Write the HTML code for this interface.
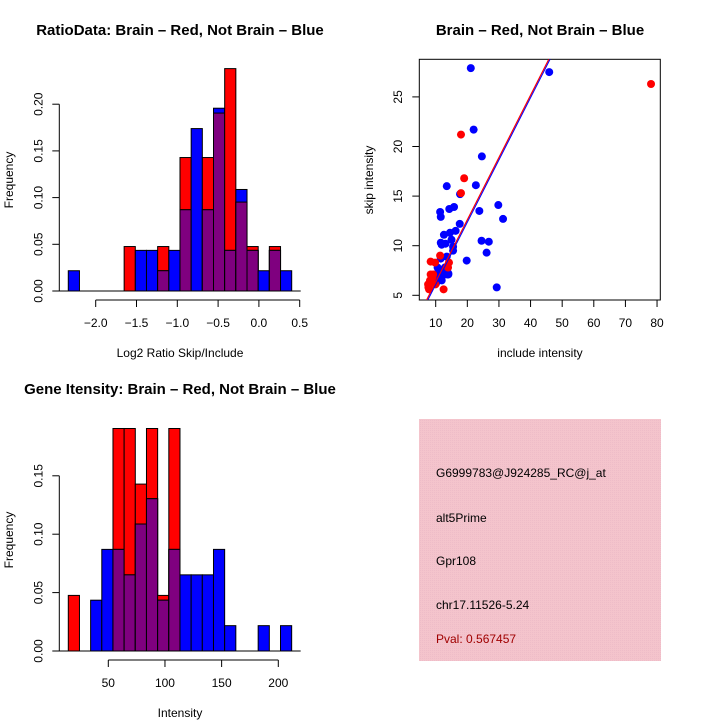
<!DOCTYPE html>
<html><head><meta charset="utf-8">
<style>
html,body{margin:0;padding:0;background:#fff;}
svg{display:block;font-family:"Liberation Sans",sans-serif;}
</style></head>
<body>
<svg id="chart" width="720" height="720" viewBox="0 0 720 720" xmlns="http://www.w3.org/2000/svg">
<defs>
<pattern id="pinkpat" width="2" height="2" patternUnits="userSpaceOnUse">
<rect width="2" height="2" fill="#f4c4cc"/>
<rect width="1" height="1" fill="#eebcc8"/>
</pattern>
</defs>
<rect x="0" y="0" width="720" height="720" fill="#fff"/>
<g id="p1"></g>
<g id="p2"></g>
<g id="p3"></g>
<g id="p4">
<rect x="419" y="419" width="242" height="242" fill="url(#pinkpat)"/>
<text x="436" y="477" font-size="12">G6999783@J924285_RC@j_at</text>
<text x="436" y="522" font-size="12">alt5Prime</text>
<text x="436" y="565" font-size="12">Gpr108</text>
<text x="436" y="609" font-size="12">chr17.11526-5.24</text>
<text x="436" y="643" font-size="12" fill="#a00000">Pval: 0.567457</text>
</g>
</svg>
<script>
// ---- Ratio histogram data ----
const ratioBinStart = -2.336;
const ratioBinWidth = 0.1369;
const ratioRed  = [0,0,0,0,0,0.0476,0,0,0.0476,0,0.1429,0,0.1429,0.1905,0.2381,0.0952,0.0476,0,0.0476,0];
const ratioBlue = [0.0217,0,0,0,0,0,0.0435,0.0435,0.0217,0.0435,0.087,0.1739,0.087,0.1957,0.0435,0.1087,0.0435,0.0217,0.0435,0.0217];
const ratioXTicks = [-2.0,-1.5,-1.0,-0.5,0.0,0.5];
const ratioXTickLabels = ["\u22122.0","\u22121.5","\u22121.0","\u22120.5","0.0","0.5"];
const ratioYTicks = [0,0.05,0.10,0.15,0.20];
const ratioYTickLabels = ["0.00","0.05","0.10","0.15","0.20"];

// ---- Gene intensity histogram data ----
const intBinStart = 14.7;
const intBinWidth = 9.855;
const intRed  = [0.0476,0,0,0,0.1905,0.1905,0.1429,0.1905,0.0476,0.1905,0,0,0,0,0,0,0,0,0,0];
const intBlue = [0,0,0.0435,0.087,0.087,0.0652,0.1087,0.1304,0.0435,0.087,0.0652,0.0652,0.0652,0.087,0.0217,0,0,0.0217,0,0.0217];
const intXTicks = [50,100,150,200];
const intXTickLabels = ["50","100","150","200"];
const intYTicks = [0,0.05,0.10,0.15];
const intYTickLabels = ["0.00","0.05","0.10","0.15"];

// ---- Scatter data ----
const blueX = [21.1,45.9,22,24.6,22.7,13.5,17.7,29.8,15.8,14.3,23.8,11.4,11.6,31.3,17.6,16.3,14.5,12.6,11.6,15,24.5,26.8,15.5,13.1,11.9,15.5,26.1,13.5,11.6,19.8,10.6,12.4,12.9,14,11.4,9.8,13.7,10.8,11.9,12.9,14,10.1,29.3,10.5];
const blueY = [27.9,27.5,21.7,19.0,16.1,16.0,15.2,14.1,13.9,13.7,13.5,13.4,12.9,12.7,12.2,11.5,11.3,11.1,10.3,10.6,10.5,10.4,9.9,10.2,10.1,9.5,9.3,8.9,8.7,8.5,7.8,7.5,7.8,7.2,7.1,7.1,7.1,6.7,6.5,7.1,7.1,6.2,5.8,6.5];
const redX = [78.1,18,19,18,11.4,8.4,14.2,9.8,13.9,9.2,8.4,9,8.2,7.6,8.7,7.7,9.9,12.5,7.9];
const redY = [26.3,21.2,16.8,15.3,9.0,8.4,8.3,8.3,7.8,7.1,7.1,6.8,6.5,6.1,6.3,5.8,6.1,5.6,5.6];
const redFit = [0.05,0.628];
const blueFit = [0.0,0.628];
const scXTicks = [10,20,30,40,50,60,70,80];
const scYTicks = [5,10,15,20,25];

const NS = "http://www.w3.org/2000/svg";
function mk(parent, tag, attrs, text){
  const e = document.createElementNS(NS, tag);
  for (const k in attrs) e.setAttribute(k, attrs[k]);
  if (text !== undefined) e.textContent = text;
  parent.appendChild(e);
  return e;
}
function title(g, x, y, s){
  const t = mk(g,'text',{x:x,y:y,'font-size':15,'font-weight':'bold','text-anchor':'middle'}, s);
  
  
}
function vlabel(g, x, y, s, size, name){
  const t = mk(g,'text',{x:x,y:y,'font-size':size,'text-anchor':'middle',transform:'rotate(-90 '+x+' '+y+')'}, s);
  
  
}
function hlabel(g, x, y, s, size, name){
  const t = mk(g,'text',{x:x,y:y,'font-size':size,'text-anchor':'middle'}, s);
  
  
}

function histogram(g, cfg){
  const xs = v => cfg.x0px + (v - cfg.x0) * cfg.xScale;
  const ys = v => cfg.y0px - v * cfg.yScale;
  const n = cfg.red.length;
  for (let i=0;i<n;i++){
    const a = cfg.binStart + i*cfg.binWidth, b = a + cfg.binWidth;
    const xa = xs(a), xb = xs(b);
    const r = cfg.red[i], bl = cfg.blue[i];
    if (r>0){
      const el = mk(g,'rect',{x:xa,y:ys(r),width:xb-xa,height:ys(0)-ys(r),fill:'#ff0000',stroke:'#000','stroke-width':1});
      
      
    }
    if (bl>0){
      const el = mk(g,'rect',{x:xa,y:ys(bl),width:xb-xa,height:ys(0)-ys(bl),fill:'#0000ff',stroke:'#000','stroke-width':1});
      
      
    }
    const m = Math.min(r,bl);
    if (m>0){
      const el = mk(g,'rect',{x:xa,y:ys(m),width:xb-xa,height:ys(0)-ys(m),fill:'#7f007f',stroke:'#000','stroke-width':1});
      
      
    }
  }
  mk(g,'line',{x1:xs(cfg.binStart)-11,x2:xs(cfg.binStart+n*cfg.binWidth)+9,y1:ys(0),y2:ys(0),stroke:'#000'});
  const yt = cfg.yTicks;
  const ax = cfg.yAxisX;
  const ya = mk(g,'line',{x1:ax,x2:ax,y1:ys(yt[0]),y2:ys(yt[yt.length-1]),stroke:'#000'});
  
  
  yt.forEach((v,i)=>{
    mk(g,'line',{x1:ax-7,x2:ax,y1:ys(v),y2:ys(v),stroke:'#000'});
    const lx = ax-17, ly = ys(v);
    const t = mk(g,'text',{x:lx,y:ly,'font-size':12,'text-anchor':'middle',transform:'rotate(-90 '+lx+' '+ly+')'}, cfg.yLabels[i]);
    
    
  });
  const xt = cfg.xTicks;
  const xa = mk(g,'line',{x1:xs(xt[0]),x2:xs(xt[xt.length-1]),y1:cfg.xAxisY,y2:cfg.xAxisY,stroke:'#000'});
  
  
  xt.forEach((v,i)=>{
    mk(g,'line',{x1:xs(v),x2:xs(v),y1:cfg.xAxisY,y2:cfg.xAxisY+7,stroke:'#000'});
    const t = mk(g,'text',{x:xs(v),y:cfg.xAxisY+27,'font-size':12,'text-anchor':'middle'}, cfg.xLabels[i]);
    
    
  });
}

const g1 = document.getElementById('p1');
histogram(g1,{x0:-2.0,x0px:95.7,xScale:81.6,y0px:291,yScale:934,binStart:ratioBinStart,binWidth:ratioBinWidth,
  red:ratioRed,blue:ratioBlue,yTicks:ratioYTicks,yLabels:ratioYTickLabels,xTicks:ratioXTicks,xLabels:ratioXTickLabels,yAxisX:59.3,xAxisY:300});
title(g1,180,35,'RatioData: Brain \u2013 Red, Not Brain \u2013 Blue');
hlabel(g1,180,357,'Log2 Ratio Skip/Include',12,'x-axis-title');
vlabel(g1,13,180,'Frequency',12,'y-axis-title');

const g3 = document.getElementById('p3');
histogram(g3,{x0:50,x0px:108.3,xScale:1.1333,y0px:651,yScale:1168,binStart:intBinStart,binWidth:intBinWidth,
  red:intRed,blue:intBlue,yTicks:intYTicks,yLabels:intYTickLabels,xTicks:intXTicks,xLabels:intXTickLabels,yAxisX:59.3,xAxisY:660});
title(g3,180,394,'Gene Itensity: Brain \u2013 Red, Not Brain \u2013 Blue');
hlabel(g3,180,717,'Intensity',12,'x-axis-title');
vlabel(g3,13,540,'Frequency',12,'y-axis-title');

const g2 = document.getElementById('p2');
const sx = v => 435.7 + (v-10)*3.162;
const sy = v => 295.3 - (v-5)*9.92;
const box = mk(g2,'rect',{x:419.3,y:59.3,width:241,height:240.7,fill:'none',stroke:'#000'});


const cp = mk(document.querySelector('defs'),'clipPath',{id:'scclip'});
mk(cp,'rect',{x:419.3,y:59.3,width:241,height:240.7});
const inner = mk(g2,'g',{'clip-path':'url(#scclip)'});
for (let i=0;i<blueX.length;i++){
  const c = mk(inner,'circle',{cx:sx(blueX[i]),cy:sy(blueY[i]),r:4,fill:'#0000ff'});
  
  
}
for (let i=0;i<redX.length;i++){
  const c = mk(inner,'circle',{cx:sx(redX[i]),cy:sy(redY[i]),r:4,fill:'#ff0000'});
  
  
}
const l1 = mk(inner,'line',{x1:sx(0),y1:sy(redFit[0]),x2:sx(90),y2:sy(redFit[0]+redFit[1]*90),stroke:'#ff0000','stroke-width':1.2});


const l2 = mk(inner,'line',{x1:sx(0)+1,y1:sy(blueFit[0]),x2:sx(90)+1,y2:sy(blueFit[0]+blueFit[1]*90),stroke:'#0000ff','stroke-width':1});


scXTicks.forEach(v=>{
  mk(g2,'line',{x1:sx(v),x2:sx(v),y1:300,y2:307,stroke:'#000'});
  const t = mk(g2,'text',{x:sx(v),y:327,'font-size':12,'text-anchor':'middle'}, String(v));
  
  
});
scYTicks.forEach(v=>{
  mk(g2,'line',{x1:412.3,x2:419.3,y1:sy(v),y2:sy(v),stroke:'#000'});
  const lx = 402, ly = sy(v);
  const t = mk(g2,'text',{x:lx,y:ly,'font-size':12,'text-anchor':'middle',transform:'rotate(-90 '+lx+' '+ly+')'}, String(v));
  
  
});
title(g2,540,35,'Brain \u2013 Red, Not Brain \u2013 Blue');
hlabel(g2,540,357,'include intensity',12,'x-axis-title');
vlabel(g2,373,180,'skip intensity',12,'y-axis-title');
</script>
</body></html>
